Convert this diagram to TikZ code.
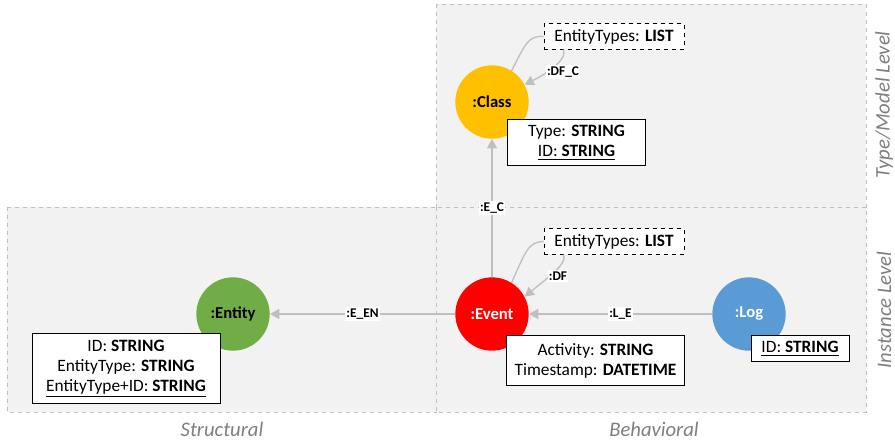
\documentclass[tikz,border=0pt]{standalone}
\usepackage{fontspec}
\setmainfont{Carlito}
\usetikzlibrary{arrows.meta}
\definecolor{regfill}{HTML}{F2F2F2}
\definecolor{regline}{HTML}{BFBFBF}
\definecolor{edgecol}{HTML}{BFBFBF}
\definecolor{lblgray}{HTML}{7F7F7F}
\definecolor{cclass}{HTML}{FFC000}
\definecolor{cevent}{HTML}{FF0000}
\definecolor{clog}{HTML}{5B9BD5}
\definecolor{centity}{HTML}{70AD47}
\tikzset{
  region/.style={draw=regline, fill=regfill, dashed, line width=0.6pt},
  ent/.style={circle, minimum size=55pt, inner sep=0pt, font=\bfseries\fontsize{12.5}{14}\selectfont},
  attr/.style={draw=black, fill=white, line width=0.7pt, align=center, inner sep=0pt, font=\fontsize{13}{15}\selectfont},
  dattr/.style={attr, dashed, line width=0.6pt},
  edge/.style={draw=edgecol, line width=1pt, -{Triangle[length=7pt,width=7.5pt]}},
  plain/.style={draw=edgecol, line width=1pt},
  elbl/.style={fill=white, inner sep=1pt, font=\bfseries\fontsize{10}{12}\selectfont},
  reglbl/.style={text=lblgray, inner sep=0pt, font=\itshape\fontsize{15.5}{17}\selectfont}
}
\begin{document}
\begin{tikzpicture}[x=0.75pt,y=-0.75pt]
\useasboundingbox (0,0) rectangle (895,443);
% regions
\draw[region] (436,4) rectangle (866,207);
\draw[region] (7,207) rectangle (436,412);
\draw[region] (436,207) rectangle (866,412);
% region labels
\node[reglbl] (lstruct) at (222,429) {Structural};
\node[reglbl] (lbeh) at (654,429) {Behavioral};
\node[reglbl, rotate=90] (ltype) at (884,105) {Type/Model Level};
\node[reglbl, rotate=90] (linst) at (884,310) {Instance Level};
% entities
\node[ent, fill=cclass] (class) at (492,102) {:Class};
\node[ent, fill=cevent, text=white] (event) at (492,314) {:Event};
\node[ent, fill=clog, text=white] (log) at (749,314) {:Log};
\node[ent, fill=centity] (entity) at (233,314) {:Entity};
% edges
\draw[edge] (event) -- node[elbl] (lec) {:E\_C} (class);
\draw[edge] (event) -- node[elbl] (leen) {:E\_EN} (entity);
\draw[edge] (log) -- node[elbl] (lle) {:L\_E} (event);
% loop boxes
\node[dattr, minimum width=105pt, minimum height=19pt] (ctypes) at (614,36.5) {EntityTypes: \textbf{LIST}};
\node[dattr, minimum width=105pt, minimum height=19pt] (etypes) at (614,241.5) {EntityTypes: \textbf{LIST}};
\draw[plain] (class.58) .. controls (525,45) and (528,35) .. (ctypes.west);
\draw[edge] ([xshift=-38pt]ctypes.south) .. controls (568,58) and (550,72) .. (class.28);
\node[elbl] (ldfc) at (563,72) {:DF\_C};
\draw[plain] (event.58) .. controls (525,253) and (528,241.5) .. (etypes.west);
\draw[edge] ([xshift=-38pt]etypes.south) .. controls (568,263) and (550,276) .. (event.28);
\node[elbl] (ldf) at (558,276) {:DF};
% attribute boxes
\node[attr, minimum width=104pt, minimum height=35pt] (cattr) at (576.5,142.5) {Type: \textbf{STRING}\\\underline{ID: \textbf{STRING}}};
\node[attr, minimum width=133pt, minimum height=37pt] (eattr) at (595.5,360.5) {Activity: \textbf{STRING}\\Timestamp: \textbf{DATETIME}};
\node[attr, minimum width=73.5pt, minimum height=19pt] (lattr) at (800,348.5) {\underline{ID: \textbf{STRING}}};
\node[attr, minimum width=141pt, minimum height=52pt] (nattr) at (126,368.5) {ID: \textbf{STRING}\\EntityType: \textbf{STRING}\\\underline{EntityType+ID: \textbf{STRING}}};
\end{tikzpicture}
\end{document}
